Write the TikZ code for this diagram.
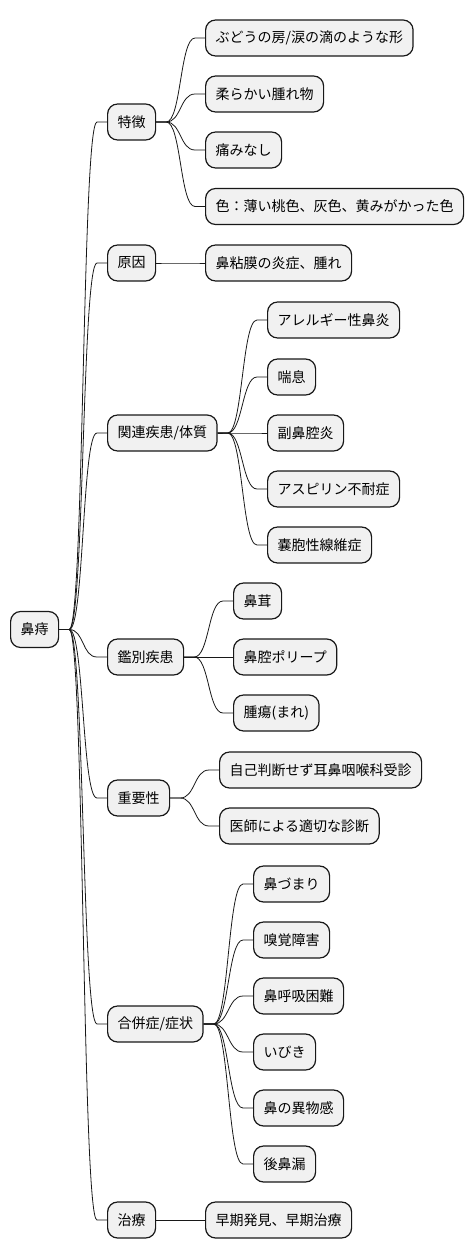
\documentclass[tikz,border=0pt]{standalone}
\usepackage{fontspec}
\setmainfont{Noto Sans CJK JP}
\definecolor{boxfill}{HTML}{F1F1F1}
\definecolor{boxline}{HTML}{181818}
\begin{document}
\begin{tikzpicture}[x=1pt,y=-1pt,
  mm/.style={draw=boxline,fill=boxfill,line width=1.2pt,rounded corners=10pt,
    anchor=west,minimum height=36pt,inner xsep=10pt,inner ysep=0pt,
    font=\fontsize{14pt}{16pt}\selectfont,text=black},
  conn/.style={draw=boxline,line width=0.8pt}]
\useasboundingbox (0,0) rectangle (474,1259);
\newcommand{\lnk}[2]{\draw[conn] (#1.east) -- ++(10pt,0) .. controls +(15pt,0) and +(-15pt,0) .. ([xshift=-10pt]#2.west) -- (#2.west);}
% root
\node[mm] (r) at (10,629.5) {鼻痔};
% level 1
\node[mm] (a) at (107,122) {特徴};
\node[mm] (b) at (107,263) {原因};
\node[mm] (c) at (107,433) {関連疾患/体質};
\node[mm] (d) at (107,657) {鑑別疾患};
\node[mm] (e) at (107,798) {重要性};
\node[mm] (f) at (107,1024) {合併症/症状};
\node[mm] (g) at (107,1220) {治療};
% level 2
\node[mm] (a1) at (205,38) {ぶどうの房/涙の滴のような形};
\node[mm] (a2) at (205,94) {柔らかい腫れ物};
\node[mm] (a3) at (205,150) {痛みなし};
\node[mm] (a4) at (205,206.5) {色：薄い桃色、灰色、黄みがかった色};
\node[mm] (b1) at (205,263) {鼻粘膜の炎症、腫れ};
\node[mm] (c1) at (267,320) {アレルギー性鼻炎};
\node[mm] (c2) at (267,377) {喘息};
\node[mm] (c3) at (267,433) {副鼻腔炎};
\node[mm] (c4) at (267,489) {アスピリン不耐症};
\node[mm] (c5) at (267,545) {嚢胞性線維症};
\node[mm] (d1) at (233,601) {鼻茸};
\node[mm] (d2) at (233,657) {鼻腔ポリープ};
\node[mm] (d3) at (233,713) {腫瘍(まれ)};
\node[mm] (e1) at (219,770) {自己判断せず耳鼻咽喉科受診};
\node[mm] (e2) at (219,826) {医師による適切な診断};
\node[mm] (f1) at (253,884) {鼻づまり};
\node[mm] (f2) at (253,940) {嗅覚障害};
\node[mm] (f3) at (253,996) {鼻呼吸困難};
\node[mm] (f4) at (253,1052) {いびき};
\node[mm] (f5) at (253,1108) {鼻の異物感};
\node[mm] (f6) at (253,1164) {後鼻漏};
\node[mm] (g1) at (205,1220) {早期発見、早期治療};
% connectors
\foreach \t in {a,b,c,d,e,f,g}{\lnk{r}{\t}}
\foreach \t in {a1,a2,a3,a4}{\lnk{a}{\t}}
\lnk{b}{b1}
\foreach \t in {c1,c2,c3,c4,c5}{\lnk{c}{\t}}
\foreach \t in {d1,d2,d3}{\lnk{d}{\t}}
\foreach \t in {e1,e2}{\lnk{e}{\t}}
\foreach \t in {f1,f2,f3,f4,f5,f6}{\lnk{f}{\t}}
\lnk{g}{g1}
\end{tikzpicture}
\end{document}
